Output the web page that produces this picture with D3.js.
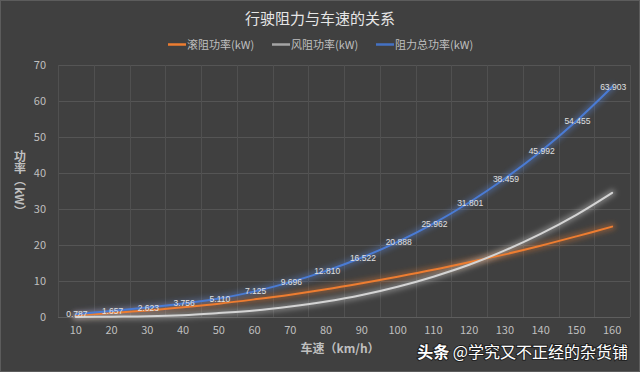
<!DOCTYPE html>
<html><head><meta charset="utf-8">
<script src="https://cdn.jsdelivr.net/npm/d3@7/dist/d3.min.js"></script>
<style>
html,body{margin:0;padding:0;background:#404040;}
svg{display:block;}
</style></head>
<body>
<svg id="chart" width="640" height="372"></svg>
<script>
const speeds = [10,20,30,40,50,60,70,80,90,100,110,120,130,140,150,160];
const rollingPower = [0.5,1.1,1.8,2.7,3.7,4.9,6.2,7.7,9.4,11.2,13.1,15.2,17.4,19.8,22.4,25.1];
const windPower = [0.0,0.1,0.2,0.5,1.1,1.8,2.9,4.3,6.1,8.4,11.2,14.5,18.5,23.1,28.4,34.5];
const totalPower = [0.787,1.657,2.623,3.756,5.110,7.125,9.696,12.810,16.522,20.888,25.962,31.801,38.459,45.992,54.455,63.903];
const yTicks = [0,10,20,30,40,50,60,70];
const seriesNames = ["滚阻功率(kW)","风阻功率(kW)","阻力总功率(kW)"];

const W = 640, H = 372;
const svg = d3.select("#chart");
const font = "'Noto Sans CJK SC','Microsoft YaHei',sans-serif";

svg.append("rect").attr("x",0.5).attr("y",0.5).attr("width",W-1).attr("height",H-1)
  .attr("fill","#404040").attr("stroke","#5c5c5c");

const defs = svg.append("defs");
const f = defs.append("filter").attr("id","glow").attr("x","-20%").attr("y","-50%").attr("width","140%").attr("height","200%");
f.append("feGaussianBlur").attr("stdDeviation",2.5);

const x = d3.scaleBand().domain(speeds).range([58,630]).padding(0);
const y = d3.scaleLinear().domain([0,70]).range([317,65]);
const cx = d => x(d) + x.bandwidth()/2;

// grid
const g = svg.append("g");
g.selectAll(".hg").data(yTicks).join("line")
  .attr("x1",58).attr("x2",630).attr("y1",d=>y(d)+0.5).attr("y2",d=>y(d)+0.5)
  .attr("stroke","#555555").attr("stroke-width",1);
const bounds = speeds.map(s=>x(s)).concat([630]);
g.selectAll(".vg").data(bounds).join("line")
  .attr("x1",d=>Math.round(d)+0.5).attr("x2",d=>Math.round(d)+0.5).attr("y1",65).attr("y2",317)
  .attr("stroke","#505050").attr("stroke-width",1);
g.append("line").attr("x1",58).attr("x2",630).attr("y1",317.5).attr("y2",317.5).attr("stroke","#5e5e5e");

// axes
const yAxis = d3.axisLeft(y).tickValues(yTicks).tickSize(0).tickPadding(0);
const ya = svg.append("g").attr("transform","translate(46,0)").call(yAxis);
ya.select(".domain").remove();
ya.selectAll("text").attr("fill","#bfbfbf").style("font-size","11px").style("font-family",font);

const xAxis = d3.axisBottom(x).tickSize(0).tickPadding(0);
const xa = svg.append("g").attr("transform","translate(0,326)").call(xAxis);
xa.select(".domain").remove();
xa.selectAll("text").attr("fill","#bfbfbf").style("font-size","11px").style("font-family",font);

// lines
const line = d3.line().x((d,i)=>cx(speeds[i])).y(d=>y(d)).curve(d3.curveCatmullRom.alpha(0.5));
const series = [
  {vals: rollingPower, color:"#ED7D31", glow:"#ED7D31", lg:"#ED7D31"},
  {vals: windPower, color:"#d4d4d4", glow:"#e0e0e0", lg:"#A5A5A5"},
  {vals: totalPower, color:"#4a7bd4", glow:"#5b8ae0", lg:"#4472C4"}
];
series.forEach(s=>{
  svg.append("path").attr("d",line(s.vals)).attr("fill","none")
    .attr("stroke",s.glow).attr("stroke-width",7).attr("stroke-opacity",0.35)
    .attr("filter","url(#glow)").attr("stroke-linecap","round");
});
series.forEach(s=>{
  svg.append("path").attr("d",line(s.vals)).attr("fill","none")
    .attr("stroke",s.color).attr("stroke-width",2).attr("stroke-linecap","round");
});

// data labels
svg.append("g").selectAll("text").data(totalPower).join("text")
  .attr("x",(d,i)=>cx(speeds[i])+1).attr("y",d=>y(d)+3)
  .attr("text-anchor","middle").attr("fill","#e0e0e0")
  .style("font-size","8.5px").style("font-family","'Liberation Sans',Arial,sans-serif")
  .text(d=>d3.format(".3f")(d));

// title
svg.append("text").attr("x",320).attr("y",24).attr("text-anchor","middle")
  .attr("fill","#e6e6e6").style("font-size","15px").style("font-family",font)
  .text("行驶阻力与车速的关系");

// legend
const legX = [168,272,376];
const lg = svg.append("g");
series.forEach((s,i)=>{
  lg.append("line").attr("x1",legX[i]).attr("x2",legX[i]+18).attr("y1",44.5).attr("y2",44.5)
    .attr("stroke",s.lg).attr("stroke-width",2.5);
  lg.append("text").attr("x",legX[i]+19).attr("y",48.5).attr("fill","#bfbfbf")
    .style("font-size","11px").style("font-family",font).text(seriesNames[i]);
});

// axis titles
svg.append("text").attr("x",340).attr("y",353).attr("text-anchor","middle")
  .attr("fill","#bfbfbf").style("font-size","12px").style("font-weight","bold").style("font-family",font)
  .text("车速（km/h）");
svg.append("text").attr("x",20).attr("y",184)
  .attr("text-anchor","middle").attr("fill","#bfbfbf")
  .style("writing-mode","vertical-rl").style("font-size","12px").style("font-weight","bold").style("font-family",font)
  .text("功率（kW）");

// watermark
svg.append("text").attr("x",628).attr("y",358).attr("text-anchor","end")
  .attr("fill","#ffffff").style("font-size","16px").style("font-family",font)
  .style("paint-order","stroke").attr("stroke","#222").attr("stroke-width",2)
  .html('<tspan font-weight="bold">头条</tspan> @学究又不正经的杂货铺');
</script>
</body></html>
